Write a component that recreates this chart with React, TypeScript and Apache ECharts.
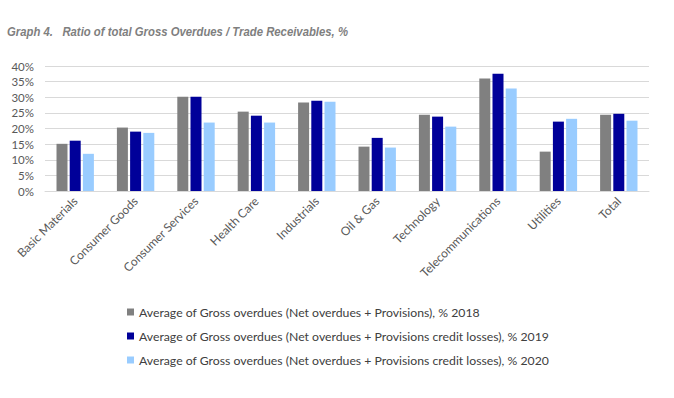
import React, { useEffect, useRef } from "react";
import * as echarts from "echarts";

const categories = [
  "Basic Materials",
  "Consumer Goods",
  "Consumer Services",
  "Health Care",
  "Industrials",
  "Oil & Gas",
  "Technology",
  "Telecommunications",
  "Utilities",
  "Total",
];

const seriesNames = [
  "Average of Gross overdues (Net overdues + Provisions), % 2018",
  "Average of Gross overdues (Net overdues + Provisions credit losses), % 2019",
  "Average of Gross overdues (Net overdues + Provisions credit losses), % 2020",
];

const values2018 = [15.1, 20.3, 30.2, 25.4, 28.3, 14.2, 24.4, 36.0, 12.6, 24.4];
const values2019 = [16.1, 19.0, 30.2, 24.1, 28.9, 17.0, 23.8, 37.5, 22.2, 24.7];
const values2020 = [11.9, 18.6, 21.9, 21.9, 28.6, 13.9, 20.6, 32.8, 23.1, 22.5];

const colors = ["#808080", "#000099", "#99CCFF"];

const titleText = "Graph 4.   Ratio of total Gross Overdues / Trade Receivables, %";

export default function App() {
  const ref = useRef<HTMLDivElement>(null);
  useEffect(() => {
    if (!ref.current) return;
    const chart = echarts.init(ref.current, undefined, { renderer: "svg" });
    const data = [values2018, values2019, values2020];
    chart.setOption({
      animation: false,
      backgroundColor: "#ffffff",
      graphic: [
        {
          type: "text",
          x: 7,
          y: 32,
          scaleX: 0.84,
          style: {
            text: titleText,
            fontFamily: "'Liberation Sans', Arial, sans-serif",
            fontStyle: "italic",
            fontWeight: "bold",
            fontSize: 13.5,
            fill: "#7f7f7f",
            verticalAlign: "middle",
            align: "left",
          },
        },
      ],
      legend: {
        orient: "vertical",
        left: 122,
        top: 300,
        icon: "rect",
        itemWidth: 7,
        itemHeight: 7,
        itemGap: 10,
        data: seriesNames,
        textStyle: {
          fontFamily: "Lato, 'Open Sans', sans-serif",
          fontSize: 12.25,
          color: "#404040",
          lineHeight: 14,
        },
      },
      grid: {
        left: 45,
        right: 25,
        top: 66,
        bottom: 207,
        containLabel: false,
      },
      xAxis: {
        type: "category",
        data: categories,
        axisLine: { lineStyle: { color: "#d9d9d9" } },
        axisTick: { show: false },
        axisLabel: {
          rotate: 45,
          interval: 0,
          margin: 8,
          fontFamily: "Lato, 'Open Sans', sans-serif",
          fontSize: 12,
          color: "#595959",
        },
      },
      yAxis: {
        type: "value",
        min: 0,
        max: 40,
        interval: 5,
        axisLine: { show: false },
        axisTick: { show: false },
        splitLine: { lineStyle: { color: "#d9d9d9" } },
        axisLabel: {
          formatter: (v: number) => `${v}%`,
          margin: 11,
          fontFamily: "Lato, 'Open Sans', sans-serif",
          fontSize: 11.5,
          color: "#595959",
        },
      },
      series: seriesNames.map((name, i) => ({
        name,
        type: "bar",
        data: data[i],
        barWidth: 11,
        barGap: "20%",
        itemStyle: { color: colors[i] },
      })),
    });
    return () => chart.dispose();
  }, []);
  return (
    <div
      ref={ref}
      style={{ position: "absolute", left: 0, top: 0, width: 674, height: 398 }}
    />
  );
}
